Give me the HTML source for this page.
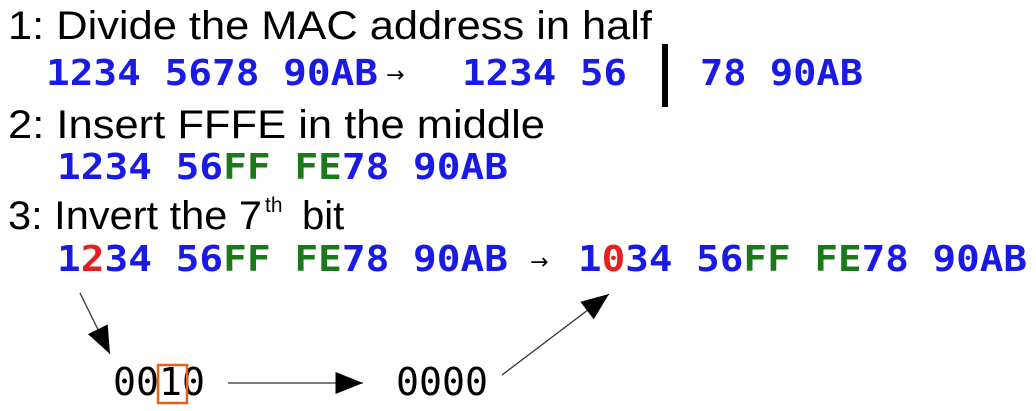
<!DOCTYPE html>
<html><head><meta charset="utf-8"><style>
html,body{margin:0;padding:0;background:#fff;width:1036px;height:411px;overflow:hidden}
.h{font-family:"Liberation Sans",sans-serif;font-size:40px;fill:#000}
.m{font-family:"DejaVu Sans Mono","Liberation Mono",monospace;font-weight:bold;font-size:36px;fill:#1a1ae6}
.g{fill:#1a7a1a}.r{fill:#e62020}
.b{font-family:"DejaVu Sans Mono","Liberation Mono",monospace;font-size:38px;fill:#000}
</style></head><body>
<svg width="1036" height="411" xmlns="http://www.w3.org/2000/svg">
<defs>
<marker id="A" viewBox="0 0 10 8" refX="10" refY="4" markerWidth="28" markerHeight="22" orient="auto" markerUnits="userSpaceOnUse"><path d="M0,0 L10,4 L0,8z" fill="#000"/></marker></defs>
<text class="h" x="8" y="39" textLength="644" lengthAdjust="spacingAndGlyphs">1: Divide the MAC address in half</text>
<text class="m" x="46" y="85" textLength="332" lengthAdjust="spacingAndGlyphs">1234 5678 90AB</text>
<text x="386" y="82" font-family="DejaVu Sans" font-size="22" fill="#000">→</text>
<text class="m" x="462" y="85" textLength="165" lengthAdjust="spacingAndGlyphs">1234 56</text>
<rect x="662" y="44" width="6" height="63" fill="#000"/>
<text class="m" x="700" y="85" textLength="163" lengthAdjust="spacingAndGlyphs">78 90AB</text>
<text class="h" x="8" y="138" textLength="537" lengthAdjust="spacingAndGlyphs">2: Insert FFFE in the middle</text>
<text class="m" x="57" y="179" textLength="451" lengthAdjust="spacingAndGlyphs">1234 56<tspan class="g">FF FE</tspan>78 90AB</text>
<text class="h" x="8" y="229" textLength="254" lengthAdjust="spacingAndGlyphs">3: Invert the 7</text>
<text x="265" y="212" font-family="Liberation Sans,sans-serif" font-size="21" fill="#000">th</text>
<text class="h" x="302" y="229">bit</text>
<text class="m" x="57" y="271" textLength="451" lengthAdjust="spacingAndGlyphs">1<tspan class="r">2</tspan>34 56<tspan class="g">FF FE</tspan>78 90AB</text>
<text x="530" y="269" font-family="DejaVu Sans" font-size="22" fill="#000">→</text>
<text class="m" x="578" y="271" textLength="449" lengthAdjust="spacingAndGlyphs">1<tspan class="r">0</tspan>34 56<tspan class="g">FF FE</tspan>78 90AB</text>
<line x1="80" y1="293" x2="110" y2="354" stroke="#333" stroke-width="1.3" marker-end="url(#A)"/>
<text class="b" x="113" y="395" textLength="92" lengthAdjust="spacingAndGlyphs">0010</text>
<rect x="158" y="365" width="29" height="38" fill="none" stroke="#e8601c" stroke-width="2.5"/>
<line x1="228" y1="383" x2="363" y2="383" stroke="#333" stroke-width="1.3" marker-end="url(#A)"/>
<text class="b" x="396" y="395" textLength="92" lengthAdjust="spacingAndGlyphs">0000</text>
<line x1="502" y1="375" x2="609" y2="294" stroke="#333" stroke-width="1.3" marker-end="url(#A)"/>
</svg>
</body></html>
